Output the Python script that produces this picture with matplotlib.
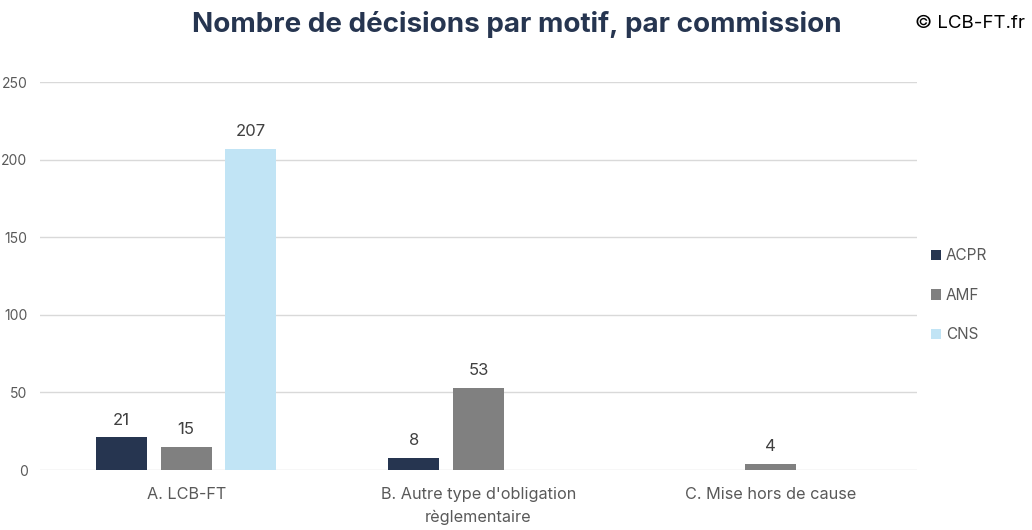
import matplotlib
matplotlib.use("Agg")
import matplotlib.pyplot as plt
import numpy as np

categories = ["A. LCB-FT", "B. Autre type d'obligation\nrèglementaire", "C. Mise hors de cause"]
series_names = ["ACPR", "AMF", "CNS"]
acpr = [21, 8, None]
amf = [15, 53, 4]
cns = [207, None, None]
colors = ["#263550", "#808080", "#C1E4F5"]
yticks = [0, 50, 100, 150, 200, 250]

plt.rcParams['font.family'] = ['Inter', 'DejaVu Sans']

fig = plt.figure(figsize=(10.32, 5.30), dpi=100)
ax = fig.add_axes([40/1032, 1 - 470/530, (917-40)/1032, (470-82)/530])

x = np.arange(len(categories))
bw = 0.175
step = 0.221
for i, (name, vals, c) in enumerate(zip(series_names, [acpr, amf, cns], colors)):
    xs, hs = [], []
    for j, v in enumerate(vals):
        if v is not None:
            xs.append(x[j] + (i - 1) * step)
            hs.append(v)
    bars = ax.bar(xs, hs, width=bw, color=c, label=name, zorder=3)
    for b, v in zip(bars, hs):
        ax.annotate(str(v), (b.get_x() + b.get_width()/2, v), xytext=(0, 7),
                    textcoords="offset points", ha="center", va="bottom",
                    fontsize=12, color="#404040")

ax.set_xlim(-0.5, 2.5)
ax.set_ylim(0, 250)
ax.set_yticks(yticks)
ax.set_yticklabels([str(t) for t in yticks])
ax.set_xticks(x)
ax.set_xticklabels(categories, fontsize=11.7, color="#595959", linespacing=1.65)
ax.tick_params(axis='y', length=0, pad=9, labelsize=10, labelcolor="#595959")
ax.tick_params(axis='x', length=0, pad=12)
ax.grid(axis='y', color="#D9D9D9", linewidth=1, zorder=0)
for s in ax.spines.values():
    s.set_visible(False)

fig.text(517/1032, 1 - 24/530, "Nombre de décisions par motif, par commission",
         ha="center", va="center", fontsize=20, fontweight="bold", color="#263550")
fig.text(1025/1032, 1 - 24/530, "© LCB-FT.fr", ha="right", va="center",
         fontsize=13.5, color="#000000")

leg = ax.legend(loc="center left", bbox_to_anchor=(1.0, 0.45), frameon=False,
                fontsize=11, handlelength=0.7, handleheight=0.7, labelspacing=1.6,
                handletextpad=0.3, labelcolor="#595959")

fig.savefig("out.png", dpi=100)
